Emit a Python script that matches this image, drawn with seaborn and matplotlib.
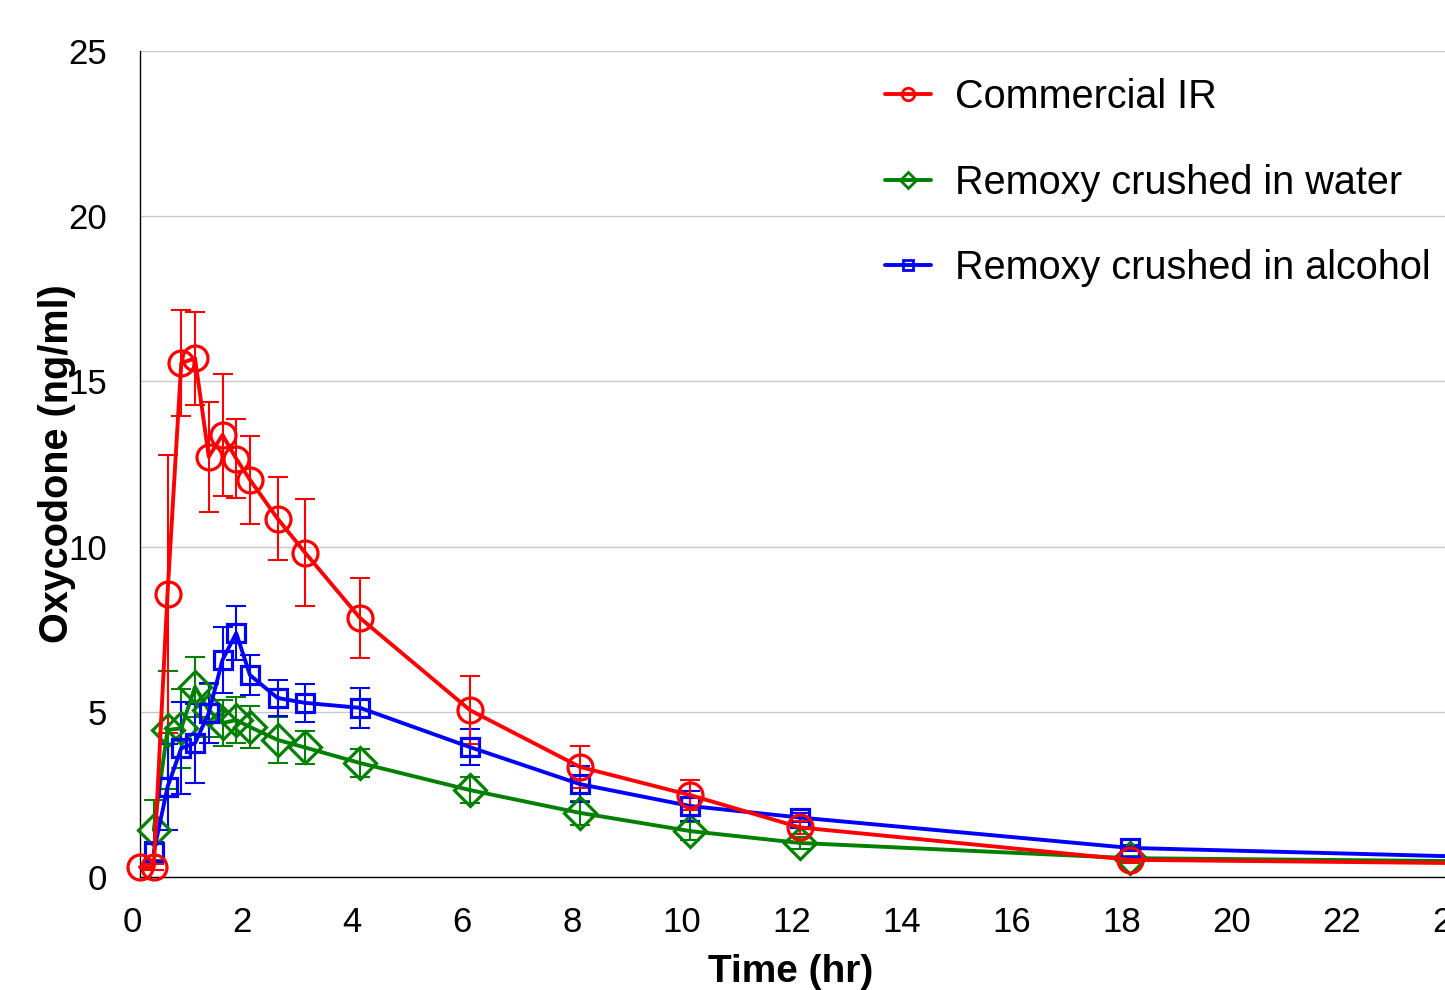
import numpy as np
import pandas as pd
import matplotlib
matplotlib.use("Agg")
import matplotlib.pyplot as plt
import matplotlib.transforms as mtransforms
from matplotlib.lines import Line2D
import seaborn as sns

# ---- data ----
time_ir = [0, 0.25, 0.5, 0.75, 1.0, 1.25, 1.5, 1.75, 2.0, 2.5, 3, 4, 6, 8, 10, 12, 18, 24]
ir_mean = [0.3, 0.3, 8.57, 15.55, 15.7, 12.72, 13.38, 12.66, 12.02, 10.85, 9.82, 7.84, 5.05, 3.33, 2.48, 1.5, 0.52, 0.42]
ir_err = [0.1, 0.1, 4.2, 1.6, 1.4, 1.67, 1.85, 1.2, 1.33, 1.26, 1.62, 1.2, 1.03, 0.63, 0.45, 0.2, 0.1, 0.1]

time_rx = [0.25, 0.5, 0.75, 1.0, 1.25, 1.5, 1.75, 2.0, 2.5, 3, 4, 6, 8, 10, 12, 18, 24]
water_mean = [1.42, 4.45, 4.5, 5.75, 5.05, 4.66, 4.75, 4.54, 4.15, 3.92, 3.45, 2.63, 1.94, 1.39, 1.03, 0.57, 0.48]
water_err = [0.9, 1.8, 1.2, 0.9, 0.8, 0.7, 0.7, 0.65, 0.7, 0.5, 0.42, 0.4, 0.37, 0.28, 0.18, 0.08, 0.05]

alcohol_mean = [0.75, 2.72, 3.9, 4.05, 4.96, 6.57, 7.38, 6.11, 5.42, 5.27, 5.12, 3.93, 2.81, 2.15, 1.8, 0.88, 0.62]
alcohol_err = [0.3, 1.3, 1.4, 1.2, 0.9, 1.0, 0.82, 0.6, 0.55, 0.57, 0.6, 0.55, 0.54, 0.44, 0.15, 0.1, 0.05]

labels = ["Commercial IR", "Remoxy crushed in water", "Remoxy crushed in alcohol"]
x_ticks = list(range(0, 25, 2))
y_ticks = [0, 5, 10, 15, 20, 25]

# ---- style ----
sns.set_style("white")
plt.rcParams["font.family"] = ["Liberation Sans", "DejaVu Sans"]
plt.rcParams["text.color"] = "black"
plt.rcParams["axes.labelcolor"] = "black"
plt.rcParams["xtick.color"] = "black"
plt.rcParams["ytick.color"] = "black"

W, H = 1445, 990
fig = plt.figure(figsize=(W / 100, H / 100), dpi=100)
ax_left, ax_right, ax_top, ax_bot = 140, 1460, 51, 877
ax = fig.add_axes([ax_left / W, (H - ax_bot) / H, (ax_right - ax_left) / W, (ax_bot - ax_top) / H])

series = [
    (labels[1], time_rx, water_mean, water_err, "#008000", "D", 16.5),
    (labels[2], time_rx, alcohol_mean, alcohol_err, "#0000FF", "s", 12.5),
    (labels[0], time_ir, ir_mean, ir_err, "#FF0000", "o", 18),
]

for lab, t, m, e, col, mk, ms in series:
    ax.errorbar(t, m, yerr=e, fmt="none", ecolor=col, elinewidth=1.5,
                capsize=7, capthick=1.5, zorder=2)
    df = pd.DataFrame({"t": t, "v": m})
    sns.lineplot(data=df, x="t", y="v", ax=ax, color=col, linewidth=2.8,
                 marker=mk, markersize=ms, markerfacecolor="none",
                 markeredgecolor=col, markeredgewidth=2.3, zorder=3,
                 errorbar=None, legend=False, clip_on=False)

ax.set_xlim(0, 24)
ax.set_ylim(0, 25)
ax.set_xticks(x_ticks)
ax.set_yticks(y_ticks)
ax.yaxis.grid(True, color="#C8C8C8", linewidth=1.0)
ax.xaxis.grid(False)
ax.set_axisbelow(True)
for s in ["top", "right"]:
    ax.spines[s].set_visible(False)
for s in ["left", "bottom"]:
    ax.spines[s].set_color("black")
    ax.spines[s].set_linewidth(1.0)

ax.tick_params(axis="both", direction="inout", length=10, width=1.0, color="black",
               labelsize=25, labelcolor="black")
ax.tick_params(axis="y", pad=19)
ax.tick_params(axis="x", pad=16)
offset = mtransforms.ScaledTranslation(-8 / 100, 0, fig.dpi_scale_trans)
for lbl in ax.get_xticklabels():
    lbl.set_transform(lbl.get_transform() + offset)

ax.set_xlabel("Time (hr)", fontsize=28, fontweight="bold", color="black")
ax.set_ylabel("Oxycodone (ng/ml)", fontsize=28.5, fontweight="bold", color="black")
ax.xaxis.set_label_coords((791 - ax_left) / (ax_right - ax_left), -(972 - ax_bot) / (ax_bot - ax_top))
ax.xaxis.label.set_va("center")
ax.yaxis.set_label_coords(-(ax_left - 57) / (ax_right - ax_left), 0.5)
ax.yaxis.label.set_va("center")

handles = [
    Line2D([], [], color="#FF0000", marker="o", markersize=9, markerfacecolor="none",
           markeredgewidth=2.0, linewidth=2.8),
    Line2D([], [], color="#008000", marker="D", markersize=8, markerfacecolor="none",
           markeredgewidth=2.0, linewidth=2.8),
    Line2D([], [], color="#0000FF", marker="s", markersize=6.5, markerfacecolor="none",
           markeredgewidth=2.0, linewidth=2.8),
]
leg = fig.legend(handles, labels, loc="upper left", bbox_to_anchor=(885 / W, 1 - 78 / H),
                 bbox_transform=fig.transFigure, frameon=False, fontsize=28.5,
                 borderpad=0, borderaxespad=0, handlelength=1.15, handletextpad=0.62,
                 labelspacing=1.2)
for txt in leg.get_texts():
    txt.set_color("black")

fig.savefig("out.png", dpi=100)
